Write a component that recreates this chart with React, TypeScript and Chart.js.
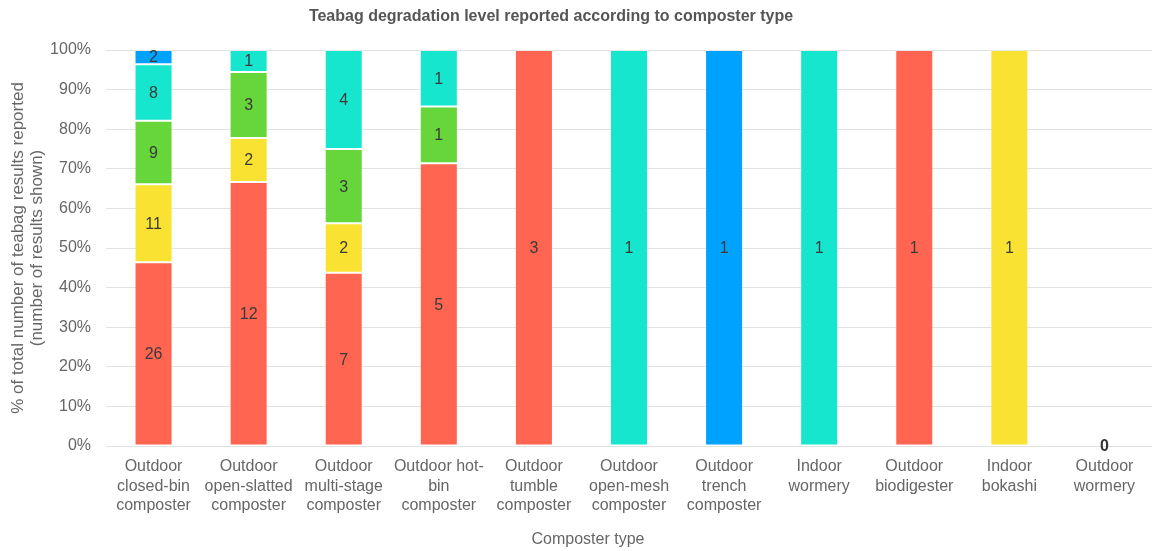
import React, { useEffect, useRef } from "react";
import { Chart, registerables } from "chart.js";

Chart.register(...registerables);

const chartTitle = "Teabag degradation level reported according to composter type";
const xAxisTitle = "Composter type";
const yAxisTitle = ["% of total number of teabag results reported", "(number of results shown)"];

const categories: string[][] = [
  ["Outdoor", "closed-bin", "composter"],
  ["Outdoor", "open-slatted", "composter"],
  ["Outdoor", "multi-stage", "composter"],
  ["Outdoor hot-", "bin", "composter"],
  ["Outdoor", "tumble", "composter"],
  ["Outdoor", "open-mesh", "composter"],
  ["Outdoor", "trench", "composter"],
  ["Indoor", "wormery"],
  ["Outdoor", "biodigester"],
  ["Indoor", "bokashi"],
  ["Outdoor", "wormery"],
];

const seriesNames = ["Level 1", "Level 2", "Level 3", "Level 4", "Level 5"];
const seriesColors = ["#FF6550", "#F9E232", "#66D63A", "#17E6CF", "#00A2FF"];

const level1Counts = [26, 12, 7, 5, 3, 0, 0, 0, 1, 0, 0];
const level2Counts = [11, 2, 2, 0, 0, 0, 0, 0, 0, 1, 0];
const level3Counts = [9, 3, 3, 1, 0, 0, 0, 0, 0, 0, 0];
const level4Counts = [8, 1, 4, 1, 0, 1, 0, 1, 0, 0, 0];
const level5Counts = [2, 0, 0, 0, 0, 0, 1, 0, 0, 0, 0];

const allCounts = [level1Counts, level2Counts, level3Counts, level4Counts, level5Counts];
const totals = categories.map((_, i) => allCounts.reduce((s, arr) => s + arr[i], 0));

const FONT = "'Liberation Sans', Helvetica, Arial, sans-serif";

export default function App() {
  const ref = useRef<HTMLCanvasElement | null>(null);

  useEffect(() => {
    document.body.style.margin = "0";
    const canvas = ref.current;
    if (!canvas) return;

    const labelPlugin = {
      id: "countLabels",
      afterDatasetsDraw(chart: any) {
        const ctx = chart.ctx;
        ctx.save();
        ctx.textAlign = "center";
        ctx.textBaseline = "middle";
        ctx.fillStyle = "#3a3a3a";
        ctx.font = `16px ${FONT}`;
        chart.data.datasets.forEach((ds: any, di: number) => {
          const meta = chart.getDatasetMeta(di);
          meta.data.forEach((el: any, i: number) => {
            const c = allCounts[di][i];
            if (c > 0) {
              ctx.fillText(String(c), el.x, (el.y + el.base) / 2 + 1);
            }
          });
        });
        const yScale = chart.scales.y;
        const xScale = chart.scales.x;
        ctx.font = `bold 16px ${FONT}`;
        ctx.fillStyle = "#333";
        totals.forEach((t, i) => {
          if (t === 0) {
            ctx.fillText("0", xScale.getPixelForValue(i), yScale.getPixelForValue(0) + 1);
          }
        });
        ctx.restore();
      },
      afterDraw(chart: any) {
        const ctx = chart.ctx;
        ctx.save();
        ctx.textAlign = "center";
        ctx.textBaseline = "middle";
        ctx.fillStyle = "#555";
        ctx.font = `bold 16px ${FONT}`;
        ctx.fillText(chartTitle, 551, 17);
        ctx.font = `16px ${FONT}`;
        ctx.fillStyle = "#666";
        ctx.fillText(xAxisTitle, 588, 540);
        ctx.restore();
      },
    };

    const chart = new Chart(canvas, {
      type: "bar",
      data: {
        labels: categories,
        datasets: allCounts.map((arr, di) => ({
          label: seriesNames[di],
          data: arr.map((v, i) => (totals[i] > 0 ? (v / totals[i]) * 100 : 0)),
          backgroundColor: seriesColors[di],
          borderColor: "rgba(255,255,255,0.22)",
          borderWidth: 1,
          borderSkipped: false,
          barPercentage: 0.4,
          categoryPercentage: 1,
        })),
      },
      options: {
        responsive: false,
        animation: false,
        devicePixelRatio: 1,
        layout: { padding: { top: 50, left: 0, right: 0, bottom: 0 } },
        plugins: {
          legend: { display: false },
          title: { display: false },
          tooltip: { enabled: false },
        },
        scales: {
          x: {
            stacked: true,
            grid: { display: false },
            border: { display: false },
            ticks: {
              color: "#666",
              font: { family: FONT, size: 16, lineHeight: 1.22 },
              padding: 3,
              maxRotation: 0,
              autoSkip: false,
            },
            afterFit(scale: any) {
              scale.height = 105;
            },
          },
          y: {
            stacked: true,
            min: 0,
            max: 100,
            grid: { color: "#e2e2e2", lineWidth: 1, drawTicks: false },
            border: { display: false },
            ticks: {
              stepSize: 10,
              color: "#666",
              font: { family: FONT, size: 16 },
              padding: 15,
              callback: (v: any) => v + "%",
            },
            title: {
              display: true,
              text: yAxisTitle,
              color: "#666",
              font: { family: FONT, size: 17, lineHeight: 1.1 },
              padding: { top: 9, bottom: 0 },
            },
            afterFit(scale: any) {
              scale.width = 106;
            },
          },
        },
      },
      plugins: [labelPlugin],
    });

    return () => chart.destroy();
  }, []);

  return (
    <div style={{ width: 1152, height: 551 }}>
      <canvas ref={ref} width={1152} height={551} style={{ display: "block" }} />
    </div>
  );
}
